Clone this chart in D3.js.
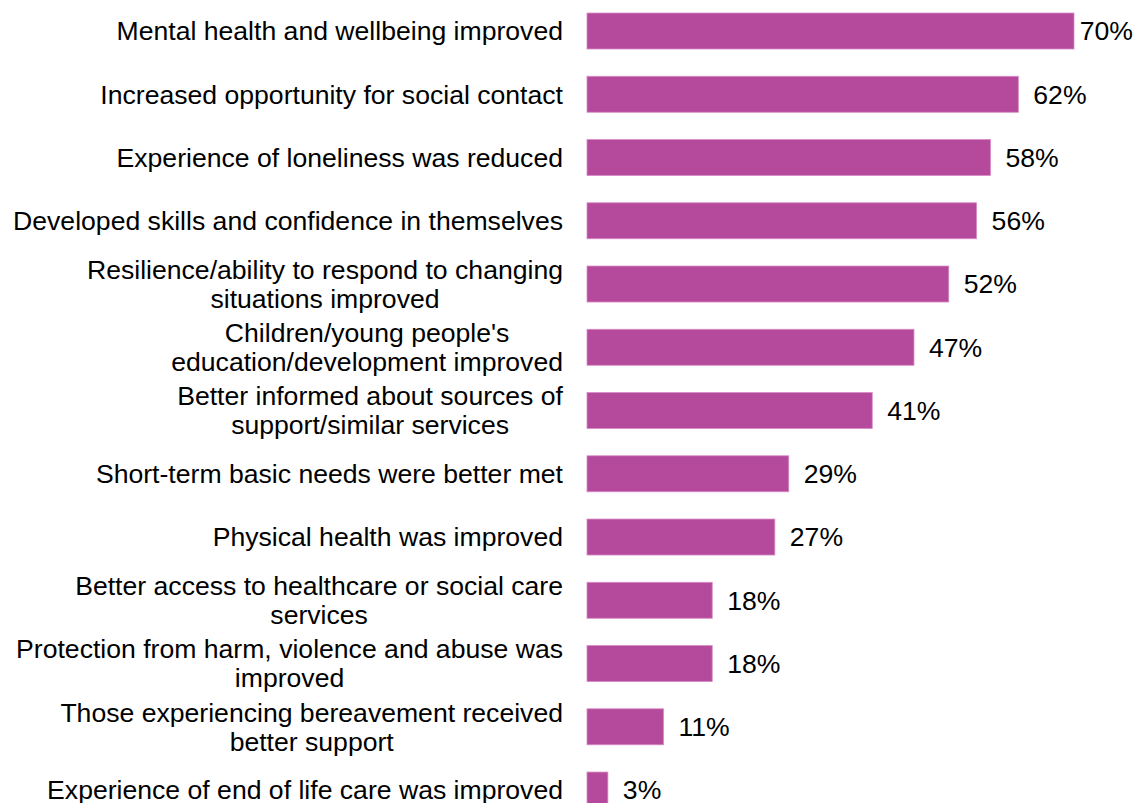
<!DOCTYPE html>
<html>
<head>
<meta charset="utf-8">
<script src="https://cdn.jsdelivr.net/npm/d3@7"></script>
<style>
  html, body { margin: 0; padding: 0; background: #fff; }
  svg { display: block; }
  text { font-family: "Liberation Sans", Arial, sans-serif; fill: #000; }
</style>
</head>
<body>
<svg id="chart" width="1137" height="803"></svg>
<script>
// Outcomes reported, share of respondents (%)
const categories = [
  "Mental health and wellbeing improved",
  "Increased opportunity for social contact",
  "Experience of loneliness was reduced",
  "Developed skills and confidence in themselves",
  "Resilience/ability to respond to changing\nsituations improved",
  "Children/young people's\neducation/development improved",
  "Better informed about sources of\nsupport/similar services",
  "Short-term basic needs were better met",
  "Physical health was improved",
  "Better access to healthcare or social care\nservices",
  "Protection from harm, violence and abuse was\nimproved",
  "Those experiencing bereavement received\nbetter support",
  "Experience of end of life care was improved"
];
const values = [70, 62, 58, 56, 52, 47, 41, 29, 27, 18, 18, 11, 3];
const valueLabels = values.map(v => v + "%");

const W = 1137, H = 803;
const fontSize = 26.6;
const barLeft = 587;
const labelRight = 563;

const svg = d3.select("#chart");

const x = d3.scaleLinear().domain([0, 70]).range([barLeft, 1074]);
const y = d3.scaleBand()
  .domain(categories)
  .range([-14.25, 835.3])
  .paddingInner(0.431)
  .paddingOuter(0.431);

// Bars
svg.append("g").selectAll("rect")
  .data(values)
  .join("rect")
  .attr("x", x(0))
  .attr("y", (d, i) => y(categories[i]))
  .attr("width", d => x(d) - x(0))
  .attr("height", y.bandwidth())
  .attr("fill", "#b5499b")
  .attr("stroke", "#d88cc6")
  .attr("stroke-width", 0.8);

// Category labels, multi-line ones centred within a right-aligned block
const lineGap = 29;
const catG = svg.append("g");
categories.forEach(cat => {
  const lines = cat.split("\n");
  const cy = y(cat) + y.bandwidth() / 2;
  const g = catG.append("g");
  const texts = lines.map((ln, j) =>
    g.append("text")
      .attr("font-size", fontSize)
      .attr("y", cy + (j - (lines.length - 1) / 2) * lineGap)
      .attr("dy", "0.35em")
      .text(ln)
  );
  if (lines.length === 1) {
    texts[0].attr("x", labelRight).attr("text-anchor", "end");
  } else {
    const maxW = d3.max(texts, t => t.node().getComputedTextLength());
    texts.forEach(t => t.attr("x", labelRight - maxW / 2).attr("text-anchor", "middle"));
  }
});

// Value labels next to bar ends, kept inside the right edge
svg.append("g").selectAll("text")
  .data(values)
  .join("text")
  .attr("font-size", fontSize)
  .attr("y", (d, i) => y(categories[i]) + y.bandwidth() / 2)
  .attr("dy", "0.35em")
  .text((d, i) => valueLabels[i])
  .attr("x", function(d) {
    const w = this.getComputedTextLength();
    return Math.min(x(d) + 15, W - 4 - w);
  });
</script>
</body>
</html>
